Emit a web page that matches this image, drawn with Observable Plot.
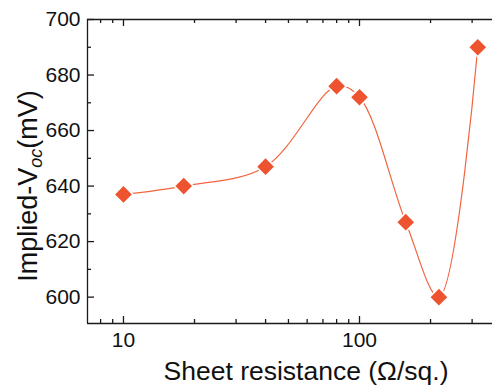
<!DOCTYPE html>
<html><head><meta charset="utf-8">
<script src="https://cdn.jsdelivr.net/npm/d3@7"></script>
<script src="https://cdn.jsdelivr.net/npm/@observablehq/plot@0.6"></script>
<style>body{margin:0;background:#fff;} svg{display:block}</style>
</head><body><div id="chart"></div>
<script>
const resistance = [10, 18, 40, 80, 100, 157, 217, 317];
const voc = [637, 640, 647, 676, 672, 627, 600, 690];
const xMajorTicks = [10, 100];
const xMinorTicks = [8, 9, 20, 30, 40, 50, 60, 70, 80, 90, 200, 300];
const yMajorTicks = [600, 620, 640, 660, 680, 700];
const yMinorTicks = [610, 630, 650, 670, 690];
const xDomain = [7.04, 366];
const yDomain = [590.5, 700];
const xTitle = "Sheet resistance (Ω/sq.)";

const data = resistance.map((r, i) => ({r, v: voc[i]}));
const W = 492, H = 389, mL = 87, mR = 0, mT = 19, mB = 66;
const plotW = W - mL - mR, plotH = H - mT - mB;
const axisColor = "#1a1a1a";
const major = 7, minor = 4, sw = 1.3;
const font = "'Liberation Sans', Arial, sans-serif";

const chart = Plot.plot({
  width: W, height: H,
  marginLeft: mL, marginRight: mR, marginTop: mT, marginBottom: mB,
  style: {fontFamily: font, fontSize: "21px", color: "#111", background: "white"},
  x: {type: "log", domain: xDomain},
  y: {domain: yDomain},
  marks: [
    Plot.axisX(xMajorTicks, {tickSize: 0, tickPadding: 9, fontSize: 21, tickFormat: d => String(d), label: null}),
    Plot.axisY(yMajorTicks, {tickSize: 0, tickPadding: 7, fontSize: 21, tickFormat: d => String(d), label: null}),
    Plot.ruleX(xMajorTicks, {x: d => d, insetTop: plotH - major, stroke: axisColor, strokeWidth: sw}),
    Plot.ruleX(xMinorTicks, {x: d => d, insetTop: plotH - minor, stroke: axisColor, strokeWidth: sw}),
    Plot.ruleX(xMajorTicks, {x: d => d, insetBottom: plotH - major, stroke: axisColor, strokeWidth: sw}),
    Plot.ruleX(xMinorTicks, {x: d => d, insetBottom: plotH - minor, stroke: axisColor, strokeWidth: sw}),
    Plot.ruleY(yMajorTicks, {y: d => d, insetRight: plotW - major, stroke: axisColor, strokeWidth: sw}),
    Plot.ruleY(yMinorTicks, {y: d => d, insetRight: plotW - minor, stroke: axisColor, strokeWidth: sw}),
    Plot.ruleX([xDomain[0]], {stroke: axisColor, strokeWidth: sw}),
    Plot.ruleY([yDomain[0]], {stroke: axisColor, strokeWidth: sw}),
    Plot.ruleY([yDomain[1]], {stroke: axisColor, strokeWidth: sw}),
    Plot.line(data, {x: "r", y: "v", curve: "catmull-rom", stroke: "#F0653F", strokeWidth: 1.2}),
    Plot.dot(data, {x: "r", y: "v", symbol: "diamond2", r: 9.6, fill: "white", stroke: "none"}),
    Plot.dot(data, {x: "r", y: "v", symbol: "diamond2", r: 7.5, fill: "#EE5330", stroke: "none"})
  ]
});
document.getElementById("chart").appendChild(chart);

const svg = d3.select(chart);
svg.append("text")
  .attr("x", 306).attr("y", 380)
  .attr("text-anchor", "middle")
  .attr("font-family", font)
  .attr("font-size", 26.5).attr("fill", "#111")
  .text(xTitle);
const yt = svg.append("text")
  .attr("transform", "translate(37,186) rotate(-90)")
  .attr("text-anchor", "middle")
  .attr("font-family", font)
  .attr("font-size", 27).attr("fill", "#111");
yt.append("tspan").text("Implied-V");
yt.append("tspan").attr("font-style", "italic").attr("font-size", 18).attr("dy", 5).text("oc");
yt.append("tspan").attr("dy", -5).text("(mV)");
</script>
</body></html>
